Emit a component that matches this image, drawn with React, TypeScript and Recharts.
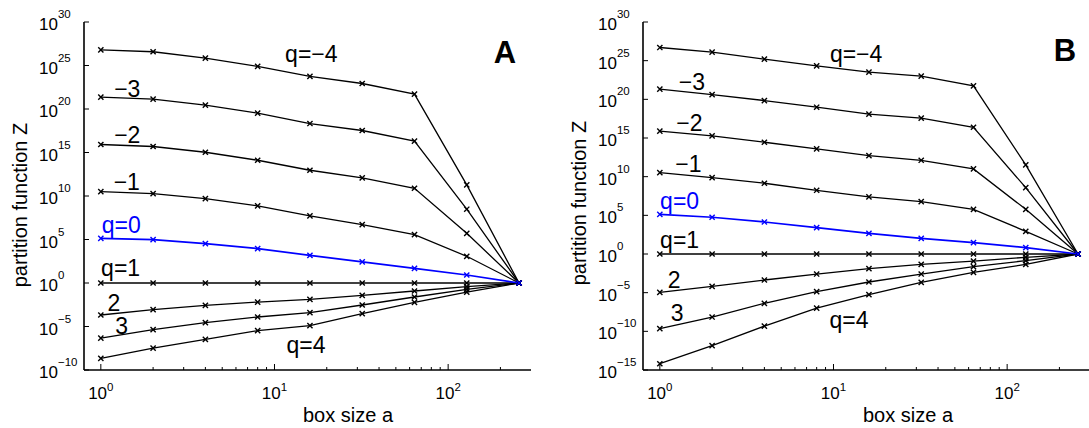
import React from "react";
import { LineChart, Line, XAxis, YAxis, ReferenceDot } from "recharts";

// box sizes a (x axis, log scale)
const boxSizes = [1, 2, 4, 8, 16, 32, 64, 128, 256];

// panel A: log10 of partition function Z for each q
const aQm4 = [26.8, 26.58, 25.85, 24.89, 23.74, 22.93, 21.71, 11.28, 0];
const aQm3 = [21.36, 21.13, 20.44, 19.52, 18.33, 17.53, 16.3, 8.48, 0];
const aQm2 = [15.92, 15.69, 15.03, 14.11, 12.96, 12.08, 10.89, 5.71, 0];
const aQm1 = [10.51, 10.28, 9.7, 8.86, 7.71, 6.71, 5.56, 3.07, 0];
const aQ0 = [5.14, 4.99, 4.53, 3.95, 3.18, 2.42, 1.69, 0.92, 0];
const aQ1 = [0, 0, 0, 0, 0, 0, 0, 0, 0];
const aQ2 = [-3.68, -3.07, -2.57, -2.19, -1.88, -1.42, -0.92, -0.42, 0];
const aQ3 = [-6.33, -5.37, -4.56, -3.91, -3.41, -2.53, -1.61, -0.73, 0];
const aQ4 = [-8.67, -7.48, -6.48, -5.48, -4.91, -3.53, -2.22, -1.04, 0];

// panel B
const bQm4 = [26.7, 26.1, 25.19, 24.33, 23.51, 23.0, 21.74, 11.52, 0];
const bQm3 = [21.31, 20.62, 19.84, 18.98, 18.08, 17.56, 16.39, 8.58, 0];
const bQm2 = [15.88, 15.27, 14.45, 13.59, 12.73, 12.12, 11.0, 5.78, 0];
const bQm1 = [10.53, 9.88, 9.15, 8.24, 7.38, 6.77, 5.78, 2.93, 0];
const bQ0 = [5.13, 4.75, 4.14, 3.41, 2.67, 2.03, 1.47, 0.82, 0];
const bQ1 = [0, 0, 0, 0, 0, 0, 0, 0, 0];
const bQ2 = [-4.96, -4.18, -3.36, -2.59, -1.9, -1.34, -0.91, -0.43, 0];
const bQ3 = [-9.66, -8.15, -6.38, -4.87, -3.62, -2.59, -1.64, -0.86, 0];
const bQ4 = [-14.19, -11.86, -9.32, -6.99, -5.26, -3.67, -2.37, -1.34, 0];

const xTicks = [1, 2, 3, 4, 5, 6, 7, 8, 9, 10, 20, 30, 40, 50, 60, 70, 80, 90, 100, 200];
const yTicksA = [-10, -5, 0, 5, 10, 15, 20, 25, 30];
const yTicksB = [-15, -10, -5, 0, 5, 10, 15, 20, 25, 30];

const labelTextsA = ["q=−4", "−3", "−2", "−1", "q=0", "q=1", "2", "3", "q=4"];
const labelTextsB = ["q=−4", "−3", "−2", "−1", "q=0", "q=1", "2", "3", "q=4"];

const keys = ["qm4", "qm3", "qm2", "qm1", "q1", "q2", "q3", "q4", "q0"];

const FONT = "'Liberation Sans', Arial, Helvetica, sans-serif";
const BLUE = "#0000ff";

// where the curve labels sit, in data units (box size, exponent)
const labelSpotsA = [
  [16.3, 26.3], [1.42, 22.3], [1.42, 17.0], [1.41, 11.6], [1.31, 6.67],
  [1.3, 1.69], [1.19, -2.26], [1.32, -4.95], [15.2, -7.13],
];
const labelSpotsB = [
  [13.5, 25.9], [1.53, 22.3], [1.48, 16.9], [1.46, 11.7], [1.3, 6.86],
  [1.3, 1.81], [1.21, -3.32], [1.26, -7.59], [12.3, -8.46],
];

const expText = (e: number) => (e < 0 ? `−${-e}` : `${e}`);

function isMajor(v: number) {
  const e = Math.log10(v);
  return Math.abs(e - Math.round(e)) < 1e-9;
}

function BottomTick(props: any) {
  const { x, y, payload } = props;
  const v = payload.value;
  const major = isMajor(v);
  return (
    <g>
      <line x1={x} x2={x} y1={y} y2={y - (major ? 6 : 3)} stroke="#000" strokeWidth={1} />
      {major && (
        <text x={x} y={y + 29} textAnchor="middle" fontFamily={FONT} fontSize={17} fill="#000">
          10
          <tspan fontSize={11.5} dy={-8}>
            {expText(Math.round(Math.log10(v)))}
          </tspan>
        </text>
      )}
    </g>
  );
}

function TopTick(props: any) {
  const { x, y, payload } = props;
  const major = isMajor(payload.value);
  return <line x1={x} x2={x} y1={y} y2={y + (major ? 6 : 3)} stroke="#000" strokeWidth={1} />;
}

function LeftTick(props: any) {
  const { x, y, payload } = props;
  return (
    <g>
      <line x1={x} x2={x + 5} y1={y} y2={y} stroke="#000" strokeWidth={1} />
      <text x={x - 45} y={y + 8} textAnchor="start" fontFamily={FONT} fontSize={17} fill="#000">
        10
        <tspan fontSize={11.5} dy={-12}>
          {expText(payload.value)}
        </tspan>
      </text>
    </g>
  );
}

function RightTick(props: any) {
  const { x, y } = props;
  return <line x1={x} x2={x - 5} y1={y} y2={y} stroke="#000" strokeWidth={1} />;
}

function XMark(props: any) {
  const { cx, cy, stroke, index } = props;
  if (cx == null || cy == null) return <g key={index} />;
  const s = 2.6;
  return (
    <path
      key={index}
      d={`M${cx - s},${cy - s}L${cx + s},${cy + s}M${cx - s},${cy + s}L${cx + s},${cy - s}`}
      stroke={stroke}
      strokeWidth={1.4}
      fill="none"
    />
  );
}

type PanelProps = {
  series: number[][];
  yTicks: number[];
  labels: string[];
  spots: number[][];
  width: number;
  yAxisWidth: number;
  rightMargin: number;
};

function Panel({ series, yTicks, labels, spots, width, yAxisWidth, rightMargin }: PanelProps) {
  const order = ["qm4", "qm3", "qm2", "qm1", "q0", "q1", "q2", "q3", "q4"];
  const data = boxSizes.map((a, i) => {
    const row: Record<string, number> = { a };
    order.forEach((k, j) => (row[k] = series[j][i]));
    return row;
  });
  const yDomain = [yTicks[0], yTicks[yTicks.length - 1]];
  const axisLine = { stroke: "#000", strokeWidth: 1.6 };

  return (
    <LineChart width={width} height={428} data={data} margin={{ top: 22, right: rightMargin, bottom: 0, left: 0 }}>
      <XAxis
        xAxisId="b"
        dataKey="a"
        type="number"
        scale="log"
        domain={[0.8, 300]}
        allowDataOverflow
        ticks={xTicks}
        interval={0}
        height={58}
        tickSize={0}
        tickMargin={0}
        tickLine={false}
        axisLine={axisLine}
        tick={BottomTick}
      />
      <XAxis
        xAxisId="t"
        orientation="top"
        dataKey="a"
        type="number"
        scale="log"
        domain={[0.8, 300]}
        allowDataOverflow
        ticks={xTicks}
        interval={0}
        height={0}
        tickSize={0}
        tickMargin={0}
        tickLine={false}
        axisLine={axisLine}
        tick={TopTick}
      />
      <YAxis
        yAxisId="l"
        type="number"
        domain={yDomain}
        allowDataOverflow
        ticks={yTicks}
        interval={0}
        width={yAxisWidth}
        tickSize={0}
        tickMargin={0}
        tickLine={false}
        axisLine={axisLine}
        tick={LeftTick}
      />
      <YAxis
        yAxisId="r"
        orientation="right"
        type="number"
        domain={yDomain}
        allowDataOverflow
        ticks={yTicks}
        interval={0}
        width={0}
        tickSize={0}
        tickMargin={0}
        tickLine={false}
        axisLine={axisLine}
        tick={RightTick}
      />
      {keys.map((k) => {
        const color = k === "q0" ? BLUE : "#000";
        return (
          <Line
            key={k}
            xAxisId="b"
            yAxisId="l"
            dataKey={k}
            stroke={color}
            strokeWidth={k === "q0" ? 1.7 : 1.3}
            dot={XMark}
            activeDot={false}
            isAnimationActive={false}
          />
        );
      })}
      {labels.map((t, i) => (
        <ReferenceDot
          key={t + i}
          xAxisId="b"
          yAxisId="l"
          x={spots[i][0]}
          y={spots[i][1]}
          r={1}
          fill="none"
          stroke="none"
          ifOverflow="visible"
          label={{
            value: t,
            position: "center",
            fontSize: 23,
            fontFamily: FONT,
            fill: t === "q=0" ? BLUE : "#000",
          }}
        />
      ))}
    </LineChart>
  );
}

const textStyle: React.CSSProperties = {
  position: "absolute",
  fontFamily: FONT,
  color: "#000",
  whiteSpace: "nowrap",
  lineHeight: 1,
};

function Title({ x, y, text, size, rotate, bold }: { x: number; y: number; text: string; size: number; rotate?: boolean; bold?: boolean }) {
  return (
    <div
      style={{
        ...textStyle,
        left: x,
        top: y,
        fontSize: size,
        fontWeight: bold ? "bold" : "normal",
        transform: `translate(-50%, -50%)${rotate ? " rotate(-90deg)" : ""}`,
      }}
    >
      {text}
    </div>
  );
}

export default function App() {
  return (
    <div style={{ position: "absolute", left: 0, top: 0, width: 1089, height: 428, overflow: "hidden", background: "#fff" }}>
      <div style={{ position: "absolute", left: 0, top: 0 }}>
        <Panel
          series={[aQm4, aQm3, aQm2, aQm1, aQ0, aQ1, aQ2, aQ3, aQ4]}
          yTicks={yTicksA}
          labels={labelTextsA}
          spots={labelSpotsA}
          width={545}
          yAxisWidth={84}
          rightMargin={14}
        />
      </div>
      <div style={{ position: "absolute", left: 545, top: 0 }}>
        <Panel
          series={[bQm4, bQm3, bQm2, bQm1, bQ0, bQ1, bQ2, bQ3, bQ4]}
          yTicks={yTicksB}
          labels={labelTextsB}
          spots={labelSpotsB}
          width={550}
          yAxisWidth={98}
          rightMargin={5}
        />
      </div>
      <Title x={20} y={205} text="partition function Z" size={20} rotate />
      <Title x={348} y={415} text="box size a" size={20} />
      <Title x={505} y={52} text="A" size={31} bold />
      <Title x={579} y={203} text="partition function Z" size={20} rotate />
      <Title x={908} y={415} text="box size a" size={20} />
      <Title x={1065} y={50} text="B" size={31} bold />
    </div>
  );
}
